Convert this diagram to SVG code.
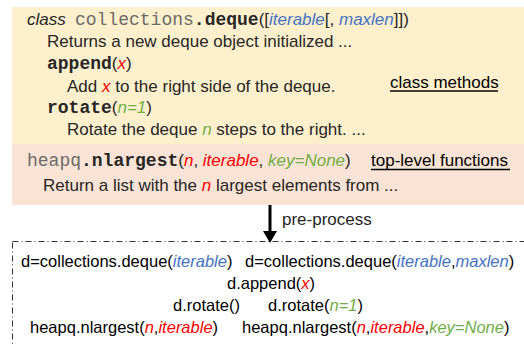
<svg xmlns="http://www.w3.org/2000/svg" width="524" height="345" viewBox="0 0 524 345">
<defs>
<marker id="ah" viewBox="0 0 12 14" refX="0" refY="7" markerWidth="12" markerHeight="14" markerUnits="userSpaceOnUse" orient="auto">
<path d="M0,0 L12,7 L0,14 Z" fill="#000"/>
</marker>
</defs>
<style>
text{font-family:"Liberation Sans",Arial,sans-serif;font-size:17px;fill:#262626}
.m{font-family:"Liberation Mono","Courier New",monospace;font-size:18px;fill:#6a6a6a}
.mb{font-family:"Liberation Mono","Courier New",monospace;font-size:18px;font-weight:bold;fill:#262626}
.i{font-style:italic}
.r{fill:#FF0000;font-style:italic}
.g{fill:#70AD47;font-style:italic}
.b{fill:#4472C4;font-style:italic}
.bot{font-size:16.5px;fill:#000}
.ul{stroke:#000;stroke-width:1.3}
</style>
<g id="class-box">
<rect x="12" y="7" width="512" height="137" fill="#FEF0CD"/>
<text x="27" y="25"><tspan class="i">class</tspan><tspan class="m" x="75">collections</tspan><tspan class="mb">.deque</tspan><tspan>([</tspan><tspan class="b">iterable</tspan><tspan>[, </tspan><tspan class="b">maxlen</tspan><tspan>]])</tspan></text>
<text x="47" y="47">Returns a new deque object initialized ...</text>
<text x="47" y="69"><tspan class="mb">append</tspan><tspan>(</tspan><tspan class="r">x</tspan><tspan>)</tspan></text>
<text x="67" y="92">Add <tspan class="r">x</tspan> to the right side of the deque.</text>
<text x="47" y="113"><tspan class="mb">rotate</tspan><tspan>(</tspan><tspan class="g">n=1</tspan><tspan>)</tspan></text>
<text x="67" y="135">Rotate the deque <tspan class="g">n</tspan> steps to the right. ...</text>
<text x="390" y="88" style="fill:#000">class methods</text>
<line class="ul" x1="390" y1="91" x2="498" y2="91"/>
</g>
<g id="func-box">
<rect x="12" y="144" width="512" height="61" fill="#FBE4D6"/>
<text x="27" y="166"><tspan class="m">heapq</tspan><tspan class="mb">.nlargest</tspan><tspan>(</tspan><tspan class="r">n</tspan><tspan>, </tspan><tspan class="r">iterable</tspan><tspan>, </tspan><tspan class="g">key=None</tspan><tspan>)</tspan></text>
<text x="43" y="191">Return a list with the <tspan class="r">n</tspan> largest elements from ...</text>
<text x="371" y="166" style="fill:#000">top-level functions</text>
<line class="ul" x1="371" y1="169.5" x2="510" y2="169.5"/>
</g>
<g id="connectors">
<line x1="270" y1="205" x2="270" y2="231" stroke="#000" stroke-width="3" marker-end="url(#ah)"/>
<text x="282" y="225">pre-process</text>
</g>
<g id="calls-box">
<rect x="12.5" y="241.5" width="530" height="130" fill="none" stroke="#333" stroke-width="1" stroke-dasharray="6 3 1 3"/>
<text class="bot" x="21" y="267">d=collections.deque(<tspan class="b">iterable</tspan>)</text>
<text class="bot" x="245" y="267">d=collections.deque(<tspan class="b">iterable</tspan>,<tspan class="b">maxlen</tspan>)</text>
<text class="bot" x="227" y="289">d.append(<tspan class="r">x</tspan>)</text>
<text class="bot" x="173" y="311">d.rotate()</text>
<text class="bot" x="268" y="311">d.rotate(<tspan class="g">n=1</tspan>)</text>
<text class="bot" x="30" y="333">heapq.nlargest(<tspan class="r">n</tspan>,<tspan class="r">iterable</tspan>)</text>
<text class="bot" x="242" y="333">heapq.nlargest(<tspan class="r">n</tspan>,<tspan class="r">iterable</tspan>,<tspan class="g">key=None</tspan>)</text>
</g>
</svg>
